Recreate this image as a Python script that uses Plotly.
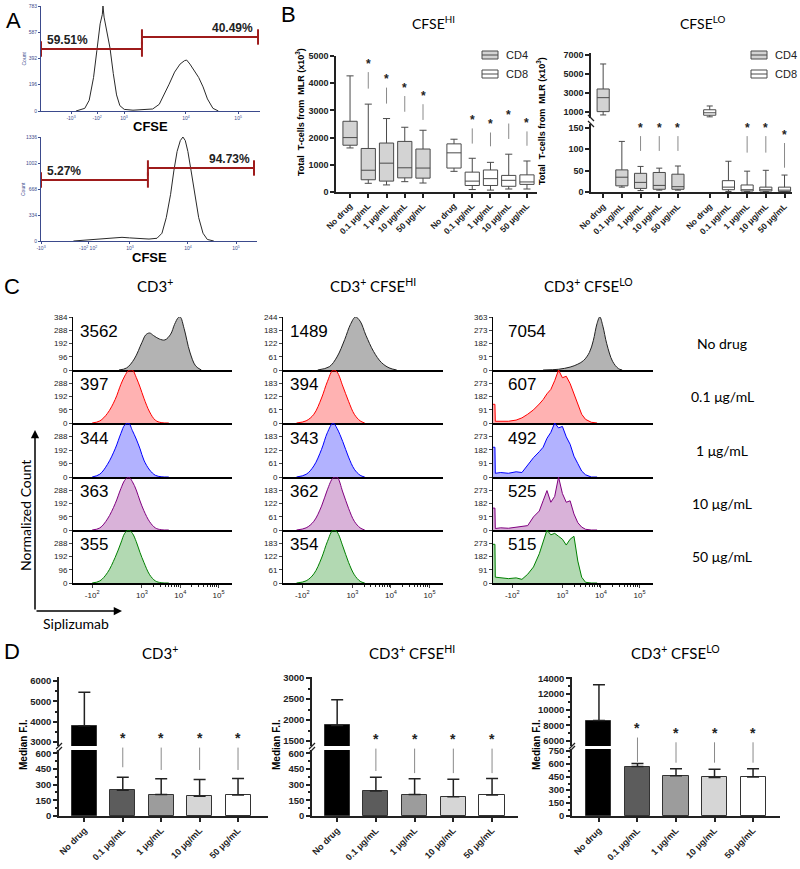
import plotly.graph_objects as go

W, H = 800, 869
ARIAL = 'Liberation Sans, Arial, sans-serif'
SOFT = 'Lato, Open Sans, sans-serif'

# ---------------- Panel A: CFSE histograms (channel 0-1000 vs count) ----------------
a_top_ch = [160, 200, 220, 240, 255, 270, 280, 283, 288, 300, 315, 330, 345, 360, 380, 420, 470, 510,
            540, 565, 585, 610, 635, 655, 665, 680, 700, 720, 740, 760, 785, 810]
a_top_cnt = [0, 20, 80, 250, 450, 650, 720, 783, 700, 600, 470, 280, 120, 40, 12, 6, 8, 15,
             50, 130, 200, 290, 350, 375, 380, 350, 300, 250, 180, 90, 20, 0]
a_top_xticks = [137, 256, 379, 662, 900]
a_top_xtext = ['-10<sup>3</sup>', '-10<sup>2</sup>', '10<sup>3</sup>', '10<sup>4</sup>', '10<sup>5</sup>']
a_top_yticks = [0, 196, 392, 587, 783]
a_top_gate_x = [0, 461, 991]
a_top_gate_y = [462, 552]
a_top_gate_txt = ['59.51%', '40.49%']

a_bot_ch = [150, 190, 250, 300, 340, 375, 410, 450, 500, 537, 560, 580, 600, 615, 630, 645, 657,
            668, 680, 695, 713, 730, 750, 770, 800]
a_bot_cnt = [0, 8, 15, 25, 40, 47, 40, 30, 25, 35, 100, 300, 600, 900, 1150, 1290, 1336,
             1290, 1150, 900, 600, 300, 100, 20, 0]
a_bot_xticks = [0, 218, 412, 680, 903]
a_bot_xtext = ['-10<sup>3</sup>', '-10<sup>2</sup> 10<sup>2</sup>', '10<sup>3</sup>', '10<sup>4</sup>', '10<sup>5</sup>']
a_bot_yticks = [0, 334, 668, 1002, 1336]
a_bot_gate_x = [0, 495, 986]
a_bot_gate_y = [784, 938]
a_bot_gate_txt = ['5.27%', '94.73%']

# ---------------- Panel B: box plots, CD4 = first 5, CD8 = last 5 ----------------
b_groups = ['No drug', '0.1 μg/mL', '1 μg/mL', '10 μg/mL', '50 μg/mL']
b_pos = [0, 1, 2, 3, 4, 5.7, 6.7, 7.7, 8.7, 9.7]
b_series = ['CD4', 'CD8']
b_fill = ['#d3d3d3', '#ffffff']

hi_low = [1620, 320, 260, 380, 330, 760, 90, 70, 110, 110]
hi_q1 = [1720, 450, 400, 520, 510, 880, 240, 240, 210, 280]
hi_med = [2000, 800, 1060, 890, 880, 1440, 400, 490, 430, 370]
hi_q3 = [2600, 1600, 1800, 1860, 1580, 1770, 730, 810, 610, 630]
hi_high = [4270, 3230, 2700, 2380, 2270, 1940, 1240, 1090, 1390, 1140]
hi_star_idx = [1, 2, 3, 4, 6, 7, 8, 9]
hi_star_y = [4720, 4150, 3840, 3540, 2650, 2500, 2830, 2540]
hi_line_low = [3800, 3250, 2950, 2650, 1780, 1680, 1950, 1700]

lo_low = [650, 12, 4, 5, 5, 450, 2, 1.5, 1.5, 1.5]
lo_q1 = [1000, 15, 9, 7, 7, 620, 6, 3, 3, 2]
lo_med = [2480, 35, 23, 16, 13, 880, 12, 6, 6, 5]
lo_q3 = [3400, 52, 44, 46, 42, 1200, 27, 17, 12, 12]
lo_high = [6050, 118, 60, 56, 61, 1600, 72, 49, 51, 40]
lo_star_idx = [2, 3, 4, 7, 8, 9]
lo_star_y = [150, 150, 150, 150, 150, 134]
lo_line_low = [96, 96, 96, 92, 92, 57]

# ---------------- Panel C: Siplizumab histograms (display position u, 10^3 = 3) ----------------
c_rows = ['No drug', '0.1 μg/mL', '1 μg/mL', '10 μg/mL', '50 μg/mL']
c_heads = ['CD3<sup>+</sup>', 'CD3<sup>+</sup> CFSE<sup>HI</sup>', 'CD3<sup>+</sup> CFSE<sup>LO</sup>']
c_ymax = [384, 244, 363]
c_yticks = [[0, 96, 192, 288, 384], [0, 61, 122, 183, 244], [0, 91, 182, 273, 363]]
c_mfi = [[3562, 397, 344, 363, 355], [1489, 394, 343, 362, 354], [7054, 607, 492, 525, 515]]
c_xticks = [1.7, 3, 4, 5]
c_xtext = ['-10<sup>2</sup>', '10<sup>3</sup>', '10<sup>4</sup>', '10<sup>5</sup>']

c1_ctrl_u = [2.4, 2.6, 2.8, 3.0, 3.1, 3.2, 3.3, 3.45, 3.6, 3.75, 3.85, 3.95, 4.0, 4.1, 4.25, 4.4, 4.55]
c1_ctrl_n = [0, 15, 80, 200, 255, 268, 250, 225, 218, 260, 330, 380, 384, 300, 130, 30, 0]
c1_u = [1.7, 1.9, 2.1, 2.3, 2.45, 2.55, 2.65, 2.75, 2.85, 2.95, 3.05, 3.2, 3.35, 3.5, 3.7]
c1_red = [0, 15, 70, 170, 280, 340, 380, 384, 330, 260, 180, 80, 20, 3, 0]
c1_blue = [0, 20, 90, 200, 310, 370, 384, 330, 270, 200, 120, 50, 12, 2, 0]
c1_purple = [0, 15, 80, 190, 300, 360, 384, 350, 290, 210, 140, 60, 15, 2, 0]
c1_green = [0, 15, 75, 185, 290, 360, 384, 360, 300, 220, 150, 60, 15, 2, 0]

c2_ctrl_u = [2.1, 2.4, 2.6, 2.8, 2.95, 3.08, 3.2, 3.35, 3.55, 3.75, 3.95, 4.15]
c2_ctrl_n = [0, 15, 60, 140, 210, 244, 225, 160, 85, 35, 10, 0]
c2_u = [1.55, 1.8, 2.0, 2.2, 2.35, 2.5, 2.6, 2.75, 2.9, 3.05, 3.2, 3.32]
c2_red = [0, 10, 40, 115, 190, 244, 235, 170, 100, 40, 10, 0]
c2_blue = [0, 12, 50, 125, 200, 244, 220, 160, 90, 35, 8, 0]
c2_purple = [0, 10, 40, 110, 185, 240, 244, 175, 100, 40, 10, 0]
c2_green = [0, 10, 42, 115, 190, 244, 235, 170, 95, 38, 8, 0]

c3_ctrl_u = [2.5, 2.9, 3.2, 3.4, 3.55, 3.7, 3.8, 3.9, 3.97, 4.05, 4.15, 4.3, 4.45, 4.55]
c3_ctrl_n = [0, 5, 20, 40, 65, 120, 200, 320, 363, 300, 180, 60, 10, 0]
c3_u = [1.2, 1.25, 1.26, 1.4, 1.6, 1.8, 1.95, 2.1, 2.25, 2.4, 2.5, 2.6, 2.7, 2.8, 2.9, 3.0,
        3.1, 3.2, 3.3, 3.4, 3.5, 3.6, 3.75, 3.9]
c3_red = [128, 128, 12, 10, 12, 20, 35, 60, 90, 130, 160, 200, 230, 290, 363, 310,
          320, 270, 200, 130, 60, 25, 5, 0]
c3_blue = [200, 200, 25, 30, 25, 35, 30, 80, 130, 170, 200, 260, 300, 363, 330, 340,
           270, 220, 140, 90, 40, 15, 0, 0]
c3_purple = [150, 150, 10, 15, 12, 20, 25, 30, 90, 130, 200, 270, 190, 230, 363, 250,
             190, 200, 110, 50, 20, 5, 0, 0]
c3_green = [265, 265, 40, 35, 30, 35, 25, 60, 110, 200, 280, 363, 330, 340, 320, 300,
            260, 300, 320, 150, 40, 5, 0, 0]

# ---------------- Panel D: median fluorescence intensity bars ----------------
d_groups = ['No drug', '0.1 μg/mL', '1 μg/mL', '10 μg/mL', '50 μg/mL']
d_pos = [0, 1, 2, 3, 4]
d1_mean = [3800, 245, 205, 190, 200]
d1_err_top = [5450, 370, 355, 350, 358]
d1_star_y = [745, 745, 745, 745]
d1_line_low = [466, 440, 440, 440]
d2_mean = [1870, 240, 205, 185, 200]
d2_err_top = [2480, 370, 355, 352, 358]
d2_star_y = [735, 735, 735, 735]
d2_line_low = [430, 410, 410, 410]
d3_mean = [8600, 570, 465, 445, 450]
d3_err_top = [13150, 605, 545, 540, 545]
d3_star_y = [1015, 960, 960, 960]
d3_line_low = [625, 615, 615, 615]
d_fill = ['#000000', '#5c5c5c', '#9c9c9c', '#d6d6d6', '#ffffff']

# ---------------- helpers ----------------
fig = go.Figure()
layout = dict(width=W, height=H, margin=dict(l=0, r=0, t=0, b=0, pad=0),
              paper_bgcolor='white', plot_bgcolor='white', showlegend=False)
annotations = []
shapes = []
n_axes = [0]


def dom_x(a, b):
    return [a / W, b / W]


def dom_y(top, bottom):
    return [1 - bottom / H, 1 - top / H]


def add_axes(xpx, ypx, xkw, ykw):
    n_axes[0] += 1
    s = '' if n_axes[0] == 1 else str(n_axes[0])
    base = dict(showgrid=False, zeroline=False, fixedrange=True, automargin=False)
    layout['xaxis' + s] = dict(base, domain=dom_x(*xpx), anchor='y' + s, **xkw)
    layout['yaxis' + s] = dict(base, domain=dom_y(*ypx), anchor='x' + s, **ykw)
    return 'x' + s, 'y' + s


def label(x, y, s, size=12, family=ARIAL, weight='normal', color='black', angle=0,
          xanchor='center', yanchor='middle'):
    annotations.append(dict(x=x / W, y=1 - y / H, xref='paper', yref='paper', text=s,
                            showarrow=False, textangle=angle, xanchor=xanchor, yanchor=yanchor,
                            font=dict(size=size, family=family, weight=weight, color=color)))


def star_marks(xa, ya, xs, ys, lows, size=12):
    for x, y, lo in zip(xs, ys, lows):
        annotations.append(dict(x=x, y=lo, ax=x, ay=y, xref=xa, yref=ya, axref=xa, ayref=ya,
                                text='*', showarrow=True, arrowhead=0, arrowwidth=1,
                                arrowcolor='#8a8a8a', standoff=0,
                                font=dict(size=size, family=ARIAL, weight='bold', color='#222')))


def break_mark(xp, yp, slope=1):
    shapes.append(dict(type='line', xref='paper', yref='paper',
                       x0=(xp - 3) / W, x1=(xp + 3) / W,
                       y0=1 - (yp + 3 * slope) / H, y1=1 - (yp - 3 * slope) / H,
                       line=dict(color='#222', width=1.2)))


def legend_key(xp, yp):
    # small box-style key for the CD4 / CD8 series
    for k, name in enumerate(b_series):
        yc = yp + 19 * k
        shapes.append(dict(type='rect', xref='paper', yref='paper',
                           x0=xp / W, x1=(xp + 16) / W, y0=1 - (yc + 4) / H, y1=1 - (yc - 4) / H,
                           fillcolor=b_fill[k], line=dict(color='#4a4a4a', width=1)))
        shapes.append(dict(type='line', xref='paper', yref='paper',
                           x0=xp / W, x1=(xp + 16) / W, y0=1 - yc / H, y1=1 - yc / H,
                           line=dict(color='#4a4a4a', width=1)))
        label(xp + 22, yc, name, size=11, color='#222', xanchor='left')


# ---------------- Panel A ----------------
RED = '#9e1b1b'
AX_BLUE = '#3b4a8c'


def panel_a(xpx, ypx, ch, cnt, xticks, xtext, yticks, gate_x, gate_y, gate_txt):
    xa, ya = add_axes(
        xpx, ypx,
        dict(range=[0, 1000], tickvals=xticks, ticktext=xtext, showline=True, linecolor=AX_BLUE,
             ticks='outside', ticklen=2, tickcolor=AX_BLUE,
             tickfont=dict(size=5, family=ARIAL, color=AX_BLUE)),
        dict(range=[0, yticks[-1]], tickvals=yticks, showline=True, linecolor=AX_BLUE,
             ticks='outside', ticklen=2, tickcolor=AX_BLUE,
             tickfont=dict(size=5, family=ARIAL, color=AX_BLUE)))
    fig.add_trace(go.Scatter(x=ch, y=cnt, mode='lines', line=dict(color='#2a2a2a', width=1),
                             xaxis=xa, yaxis=ya, hoverinfo='skip'))
    for k in range(2):
        fig.add_trace(go.Scatter(x=gate_x[k:k + 2], y=[gate_y[k]] * 2, mode='lines+markers',
                                 line=dict(color=RED, width=2),
                                 marker=dict(symbol='line-ns', size=11, line=dict(color=RED, width=2)),
                                 cliponaxis=False, xaxis=xa, yaxis=ya, hoverinfo='skip'))
    annotations.append(dict(x=20, y=gate_y[0], xref=xa, yref=ya, text=gate_txt[0], showarrow=False,
                            xanchor='left', yanchor='bottom',
                            font=dict(size=12, family=ARIAL, weight='bold', color='#222')))
    annotations.append(dict(x=975, y=gate_y[1], xref=xa, yref=ya, text=gate_txt[1], showarrow=False,
                            xanchor='right', yanchor='bottom',
                            font=dict(size=12, family=ARIAL, weight='bold', color='#222')))
    label(23, (ypx[0] + ypx[1]) / 2, 'Count', size=5, color=AX_BLUE, angle=-90)
    label((xpx[0] + xpx[1]) / 2, ypx[1] + 16, 'CFSE', size=13, weight='bold')


panel_a((41, 260), (6, 111), a_top_ch, a_top_cnt, a_top_xticks, a_top_xtext, a_top_yticks,
        a_top_gate_x, a_top_gate_y, a_top_gate_txt)
panel_a((41, 257), (137, 241), a_bot_ch, a_bot_cnt, a_bot_xticks, a_bot_xtext, a_bot_yticks,
        a_bot_gate_x, a_bot_gate_y, a_bot_gate_txt)
label(13, 20, 'A', size=22)

# ---------------- Panel B ----------------
B_LINE = dict(showline=True, linecolor='#222', linewidth=1.5, ticks='outside', ticklen=4,
              tickwidth=1.5, tickcolor='#222')
B_XKW = dict(B_LINE, tickvals=b_pos, ticktext=b_groups * 2, tickangle=-45,
             tickfont=dict(size=8.5, family=ARIAL, weight='bold', color='#222'))
B_YFONT = dict(size=9, family=ARIAL, weight='bold', color='#222')


def b_boxes(xa, ya, low, q1, med, q3, high, width):
    for k, idx in enumerate([range(0, 5), range(5, 10)]):
        fig.add_trace(go.Box(
            x=[b_pos[i] for i in idx], lowerfence=[low[i] for i in idx], q1=[q1[i] for i in idx],
            median=[med[i] for i in idx], q3=[q3[i] for i in idx],
            upperfence=[high[i] for i in idx], width=width, whiskerwidth=0.5,
            fillcolor=b_fill[k], line=dict(color='#4a4a4a', width=1), boxpoints=False,
            name=b_series[k], xaxis=xa, yaxis=ya, hoverinfo='skip'))


# CFSE HI
xb, yb = add_axes((336, 537), (56, 192), dict(B_XKW, range=[-0.77, 10.25]),
                  dict(B_LINE, range=[0, 5000], tickvals=[0, 1000, 2000, 3000, 4000, 5000],
                       tickfont=B_YFONT))
b_boxes(xb, yb, hi_low, hi_q1, hi_med, hi_q3, hi_high, 0.78)
star_marks(xb, yb, [b_pos[i] for i in hi_star_idx], hi_star_y, hi_line_low)
label(433, 22, 'CFSE<sup>HI</sup>', size=14, family=SOFT)
label(300, 112, 'Total  T-cells from  MLR (x10<sup>3</sup>)', size=9, weight='bold', angle=-90)
legend_key(482, 55)

# CFSE LO (broken axis)
xlt, ylt = add_axes((591, 792), (53, 118), dict(range=[-0.65, 10.1], visible=False),
                    dict(B_LINE, range=[326, 7212], tickvals=[1000, 3000, 5000, 7000],
                         tickfont=B_YFONT))
xlb, ylb = add_axes((591, 792), (124, 192.3), dict(B_XKW, range=[-0.65, 10.1]),
                    dict(B_LINE, range=[0, 158.4], tickvals=[0, 50, 100, 150], tickfont=B_YFONT))
b_boxes(xlt, ylt, lo_low, lo_q1, lo_med, lo_q3, lo_high, 0.65)
b_boxes(xlb, ylb, lo_low, lo_q1, lo_med, lo_q3, lo_high, 0.65)
star_marks(xlb, ylb, [b_pos[i] for i in lo_star_idx], lo_star_y, lo_line_low)
break_mark(591, 118, slope=-1)
break_mark(591, 124, slope=-1)
label(702, 22, 'CFSE<sup>LO</sup>', size=14, family=SOFT)
label(541, 121, 'Total  T-cells from  MLR (x10<sup>3</sup>)', size=9, weight='bold', angle=-90)
legend_key(751, 55)
label(288, 15, 'B', size=22)

# ---------------- Panel C ----------------
c_cols_px = [(73, 232), (283, 443), (493, 653)]
c_rows_px = [(317, 370), (370, 423), (423, 477), (477, 530), (530, 583)]
c_line = ['#222222', '#ff0000', '#0000ff', '#800080', '#008000']
c_fillc = ['rgba(128,128,128,0.6)', 'rgba(255,0,0,0.3)', 'rgba(0,0,255,0.3)',
           'rgba(128,0,128,0.3)', 'rgba(0,128,0,0.3)']
c_curves = [
    [(c1_ctrl_u, c1_ctrl_n), (c1_u, c1_red), (c1_u, c1_blue), (c1_u, c1_purple), (c1_u, c1_green)],
    [(c2_ctrl_u, c2_ctrl_n), (c2_u, c2_red), (c2_u, c2_blue), (c2_u, c2_purple), (c2_u, c2_green)],
    [(c3_ctrl_u, c3_ctrl_n), (c3_u, c3_red), (c3_u, c3_blue), (c3_u, c3_purple), (c3_u, c3_green)],
]
c_num_x = [0.03, 0.03, 0.08]
c_minor = [3.301, 3.477, 3.602, 3.699, 3.778, 3.845, 3.903, 3.954,
           4.301, 4.477, 4.602, 4.699, 4.778, 4.845, 4.903, 4.954]

for ci, (cx, curves) in enumerate(zip(c_cols_px, c_curves)):
    for ri, ry in enumerate(c_rows_px):
        last = ri == 4
        xkw = dict(range=[1.2, 5.35], showline=True, linecolor='black', linewidth=2)
        if last:
            xkw.update(tickvals=c_xticks, ticktext=c_xtext, ticks='outside', ticklen=3,
                       tickfont=dict(size=8, family=ARIAL, color='#222'),
                       minor=dict(tickvals=c_minor, ticks='outside', ticklen=2, tickcolor='#222'))
        else:
            xkw.update(showticklabels=False, ticks='')
        yt = c_yticks[ci] if ri == 0 else c_yticks[ci][:-1]
        ykw = dict(range=[0, c_ymax[ci]], tickvals=yt, showline=True, linecolor='black',
                   ticks='outside', ticklen=3, tickfont=dict(size=8, family=ARIAL, color='#222'))
        xa, ya = add_axes(cx, ry, xkw, ykw)
        u, n = curves[ri]
        smooth = ci < 2 or ri == 0
        fig.add_trace(go.Scatter(x=u, y=n, mode='lines', fill='tozeroy', fillcolor=c_fillc[ri],
                                 line=dict(color=c_line[ri], width=1,
                                           shape='spline' if smooth else 'linear'),
                                 xaxis=xa, yaxis=ya, hoverinfo='skip'))
        annotations.append(dict(x=c_num_x[ci], y=0.72, xref=xa + ' domain', yref=ya + ' domain',
                                text=str(c_mfi[ci][ri]), showarrow=False, xanchor='left',
                                yanchor='middle', font=dict(size=17, family=ARIAL, color='black')))

for ri, ry in enumerate(c_rows_px):
    label(722, (ry[0] + ry[1]) / 2, c_rows[ri], size=14, family=SOFT)
for ci, hx in enumerate([155, 373, 588]):
    label(hx, 285, c_heads[ci], size=15, family=SOFT)
label(12, 287, 'C', size=22)

annotations.append(dict(x=35 / W, y=1 - 430 / H, xref='paper', yref='paper', ax=0, ay=181,
                        text='', showarrow=True, arrowhead=2, arrowsize=1.1, arrowwidth=1.5,
                        arrowcolor='black'))
annotations.append(dict(x=122 / W, y=1 - 611 / H, xref='paper', yref='paper', ax=-87, ay=0,
                        text='', showarrow=True, arrowhead=2, arrowsize=1.1, arrowwidth=1.5,
                        arrowcolor='black'))
label(25, 516, 'Normalized Count', size=14, family=SOFT, angle=-90)
label(76, 623, 'Siplizumab', size=14, family=SOFT)

# ---------------- Panel D ----------------
D_LINE = dict(showline=True, linecolor='#222', linewidth=1.5, ticks='outside', ticklen=4,
              tickwidth=1.5, tickcolor='#222')
D_YFONT = dict(size=9.5, family=ARIAL, weight='bold', color='#222')


def d_panel(xpx, xrange, bot_top, top_range, top_ticks, top_minor, bot_range, bot_ticks,
            bot_minor, means, tops, star_y, line_low, title, title_x):
    xt, yt = add_axes(xpx, (677, 746), dict(range=xrange, visible=False),
                      dict(D_LINE, range=top_range, tickvals=top_ticks, tickformat='d',
                           tickfont=D_YFONT,
                           minor=dict(ticks='outside', ticklen=2, dtick=top_minor, tick0=0,
                                      tickcolor='#222')))
    xb_, yb_ = add_axes(xpx, (bot_top, 816),
                        dict(D_LINE, range=xrange, tickvals=d_pos, ticktext=d_groups, tickangle=-45,
                             tickfont=dict(size=9, family=ARIAL, weight='bold', color='#222')),
                        dict(D_LINE, range=bot_range, tickvals=bot_ticks, tickformat='d',
                             tickfont=D_YFONT,
                             minor=dict(ticks='outside', ticklen=2, dtick=bot_minor, tick0=0,
                                        tickcolor='#222')))
    for xa, ya in [(xt, yt), (xb_, yb_)]:
        fig.add_trace(go.Bar(x=d_pos, y=means, width=0.65,
                             marker=dict(color=d_fill, line=dict(color='#333', width=1)),
                             error_y=dict(type='data', symmetric=False,
                                          array=[t - m for t, m in zip(tops, means)],
                                          arrayminus=[0] * len(means), color='#222',
                                          thickness=1.5, width=6),
                             xaxis=xa, yaxis=ya, hoverinfo='skip'))
    star_marks(xb_, yb_, d_pos[1:], star_y, line_low, size=14)
    break_mark(xpx[0], 746)
    break_mark(xpx[0], bot_top)
    label(title_x, 652, title, size=15, family=SOFT)
    label(xpx[0] - 36, 745, 'Median F.I.', size=10, weight='bold', angle=-90)


d_panel((59, 268), [-0.66, 4.78], 750, [2803, 6200], [3000, 4000, 5000, 6000], 500,
        [0, 631], [0, 150, 300, 450, 600], 75, d1_mean, d1_err_top, d1_star_y, d1_line_low,
        'CD3<sup>+</sup>', 160)
d_panel((312, 518), [-0.65, 4.67], 750, [1381, 3024], [1500, 2000, 2500, 3000], 250,
        [0, 631], [0, 150, 300, 450, 600], 75, d2_mean, d2_err_top, d2_star_y, d2_line_low,
        'CD3<sup>+</sup> CFSE<sup>HI</sup>', 412)
d_panel((572, 780), [-0.7, 4.7], 749, [5363, 14153], [6000, 8000, 10000, 12000, 14000], 1000,
        [0, 773], [0, 150, 300, 450, 600, 750], 75, d3_mean, d3_err_top, d3_star_y, d3_line_low,
        'CD3<sup>+</sup> CFSE<sup>LO</sup>', 675)
label(12, 651, 'D', size=22)

layout['annotations'] = annotations
layout['shapes'] = shapes
layout['bargap'] = 0
fig.update_layout(**layout)
# drop the default page margin so the 800x869 figure sits flush in the window
fig.write_html('out.html', config={'displayModeBar': False},
               post_script="document.body.style.margin = '0';")
